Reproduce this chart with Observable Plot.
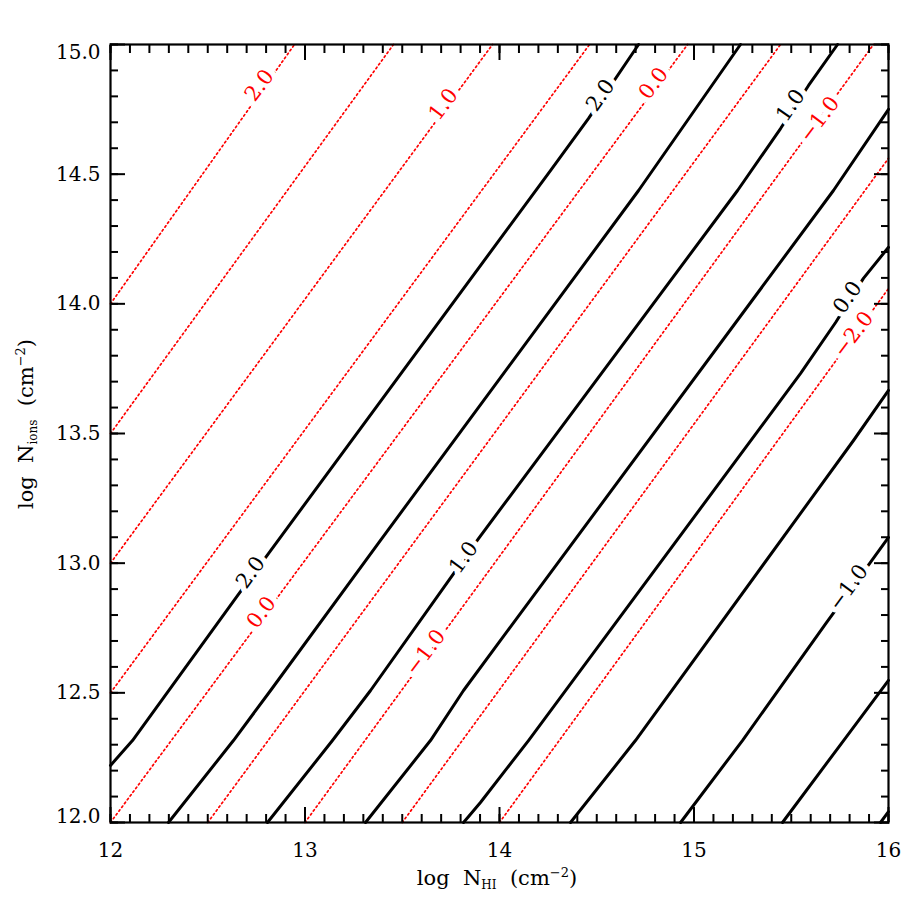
<!DOCTYPE html>
<html>
<head>
<meta charset="utf-8">
<script src="https://cdn.jsdelivr.net/npm/d3@7"></script>
<script src="https://cdn.jsdelivr.net/npm/@observablehq/plot@0.6"></script>
<style>
  body { margin: 0; background: #ffffff; }
  #chart { width: 915px; height: 915px; }
</style>
</head>
<body>
<div id="chart"></div>
<script>
// ---------- axis ticks ----------
const xTicks = [12, 13, 14, 15, 16];
const yTicks = [12.0, 12.5, 13.0, 13.5, 14.0, 14.5, 15.0];
const xMinor = d3.range(120, 161).map(d => d / 10);
const yMinor = d3.range(120, 151).map(d => d / 10);

// ---------- black solid contours (level, points [logNHI, logNions]) ----------
const blackLevels = [2.0, 1.5, 1.0, 0.5, 0.0, -0.5, -1.0, -1.5, -2.0];
const blackP20 = [[12.000,12.220],[12.113,12.316],[12.653,12.875],[12.812,13.037],[14.262,14.514],[14.458,14.715],[14.715,15.000]];
const blackP15 = [[12.298,12.000],[12.632,12.316],[12.823,12.509],[13.388,13.088],[14.715,14.437],[15.239,15.000]];
const blackP10 = [[12.807,12.000],[13.141,12.316],[13.337,12.509],[13.764,12.960],[13.892,13.095],[15.224,14.437],[15.445,14.676],[15.589,14.842],[15.738,15.000]];
const blackP05 = [[13.311,12.000],[13.645,12.316],[13.815,12.509],[14.005,12.702],[15.717,14.437],[16.000,14.750]];
const blackM00 = [[13.815,12.000],[13.902,12.077],[14.149,12.316],[15.548,13.732],[15.728,13.928],[15.871,14.098],[16.000,14.218]];
const blackM05 = [[14.365,12.000],[14.699,12.316],[15.820,13.473],[16.000,13.666]];
const blackM10 = [[14.931,12.000],[15.249,12.316],[15.681,12.771],[15.907,13.003],[16.000,13.099]];
const blackM15 = [[15.455,12.000],[15.769,12.316],[16.000,12.548]];
const blackM20 = [[15.959,12.000],[16.000,12.042]];
const blackLines = [blackP20, blackP15, blackP10, blackP05, blackM00, blackM05, blackM10, blackM15, blackM20];

// ---------- red dotted contours (level, start, end) ----------
const redLevels = [2.0, 1.5, 1.0, 0.5, 0.0, -0.5, -1.0, -1.5, -2.0];
const redStart  = [[12.0,14.0],[12.0,13.5],[12.0,13.0],[12.0,12.5],[12.0,12.0],[12.5,12.0],[13.0,12.0],[13.5,12.0],[14.0,12.0]];
const redEnd    = [[12.946,15.0],[13.455,15.0],[13.964,15.0],[14.463,15.0],[14.967,15.0],[15.445,15.0],[15.923,15.0],[16.0,14.561],[16.0,14.059]];

// ---------- contour labels ----------
const blackLabelText = ["2.0", "2.0", "1.0", "1.0", "0.0", "\u22121.0"];
const blackLabelX    = [12.720, 14.519, 13.815, 15.496, 15.789, 15.794];
const blackLabelY    = [12.964, 14.804, 13.022, 14.765, 14.025, 12.906];
const blackLabelRot  = [-54, -55, -54, -55, -55, -54];

const redLabelText = ["2.0", "1.0", "0.0", "0.0", "\u22121.0", "\u22121.0", "\u22122.0"];
const redLabelX    = [12.766, 13.712, 14.792, 12.776, 13.620, 15.645, 15.820];
const redLabelY    = [14.842, 14.769, 14.850, 12.810, 12.656, 14.711, 13.882];
const redLabelRot  = [-53, -53, -53, -53, -53, -53, -53];

// ---------- build tables ----------
const blackRows = blackLines.flatMap((pts, i) => pts.map(([x, y]) => ({level: blackLevels[i], x, y})));
const redRows = redLevels.flatMap((lv, i) => [
  {level: lv, x: redStart[i][0], y: redStart[i][1]},
  {level: lv, x: redEnd[i][0], y: redEnd[i][1]}
]);
const blackLabels = blackLabelText.map((t, i) => ({text: t, x: blackLabelX[i], y: blackLabelY[i], rot: blackLabelRot[i]}));
const redLabels = redLabelText.map((t, i) => ({text: t, x: redLabelX[i], y: redLabelY[i], rot: redLabelRot[i]}));

const FONT = "DejaVu Serif";
const fmtY = d3.format(".1f");
const noText = () => "";

const plot = Plot.plot({
  width: 915,
  height: 915,
  marginLeft: 110,
  marginRight: 27,
  marginTop: 44,
  marginBottom: 93,
  x: {domain: [12, 16]},
  y: {domain: [12, 15]},
  style: {fontFamily: FONT, fontSize: "20px", background: "white", color: "black"},
  marks: [
    Plot.line(redRows, {x: "x", y: "y", z: "level", stroke: "#ff0000", strokeWidth: 1.7, strokeDasharray: "1.7,3.0"}),
    Plot.line(blackRows, {x: "x", y: "y", z: "level", stroke: "black", strokeWidth: 3, strokeLinejoin: "round"}),
    Plot.text(redLabels, {x: "x", y: "y", text: "text", rotate: "rot", fill: "#ff0000", stroke: "white", strokeWidth: 11, paintOrder: "stroke", fontSize: 21, fontFamily: FONT}),
    Plot.text(blackLabels, {x: "x", y: "y", text: "text", rotate: "rot", fill: "black", stroke: "white", strokeWidth: 11, paintOrder: "stroke", fontSize: 21, fontFamily: FONT}),
    // tick labels
    Plot.axisX(xTicks, {anchor: "bottom", tickSize: 0, tickPadding: 20, tickFormat: d => String(d), label: null, fontSize: 20}),
    Plot.axisY(yTicks.filter(d => d > 12 && d < 15), {anchor: "left", tickSize: 0, tickPadding: 10, tickFormat: fmtY, label: null, fontSize: 20}),
    Plot.axisY([15.0], {anchor: "left", tickSize: 0, tickPadding: 10, tickFormat: fmtY, label: null, fontSize: 20, dy: 8}),
    Plot.axisY([12.0], {anchor: "left", tickSize: 0, tickPadding: 10, tickFormat: fmtY, label: null, fontSize: 20, dy: -6}),
    // inward ticks on all four sides
    Plot.axisX(xTicks, {anchor: "bottom", tickSize: -15, tickFormat: noText, label: null, strokeWidth: 2}),
    Plot.axisX(xMinor, {anchor: "bottom", tickSize: -8, tickFormat: noText, label: null, strokeWidth: 2}),
    Plot.axisX(xTicks, {anchor: "top", tickSize: -15, tickFormat: noText, label: null, strokeWidth: 2}),
    Plot.axisX(xMinor, {anchor: "top", tickSize: -8, tickFormat: noText, label: null, strokeWidth: 2}),
    Plot.axisY(yTicks, {anchor: "left", tickSize: -15, tickFormat: noText, label: null, strokeWidth: 2}),
    Plot.axisY(yMinor, {anchor: "left", tickSize: -8, tickFormat: noText, label: null, strokeWidth: 2}),
    Plot.axisY(yTicks, {anchor: "right", tickSize: -15, tickFormat: noText, label: null, strokeWidth: 2}),
    Plot.axisY(yMinor, {anchor: "right", tickSize: -8, tickFormat: noText, label: null, strokeWidth: 2}),
    Plot.frame({stroke: "black", strokeWidth: 2.2})
  ]
});

document.getElementById("chart").appendChild(plot);

// ---------- axis titles with sub/superscripts ----------
const svg = d3.select(plot);
const xs = plot.scale("x"), ys = plot.scale("y");
const cx = (xs.apply(12) + xs.apply(16)) / 2;
const cy = (ys.apply(12) + ys.apply(15)) / 2;

const xt = svg.append("text")
  .attr("x", cx - 2).attr("y", 885)
  .attr("text-anchor", "middle")
  .attr("font-family", FONT).attr("font-size", 21).attr("fill", "black")
  .style("white-space", "pre");
xt.append("tspan").text("log  N");
xt.append("tspan").attr("dy", 4).attr("font-size", 12).text("HI");
xt.append("tspan").attr("dy", -4).text("  (cm");
xt.append("tspan").attr("dy", -8).attr("font-size", 13).text("\u22122");
xt.append("tspan").attr("dy", 8).text(")");

const yt = svg.append("text")
  .attr("transform", `translate(33,${cy - 9}) rotate(-90)`)
  .attr("text-anchor", "middle")
  .attr("font-family", FONT).attr("font-size", 21).attr("fill", "black")
  .style("white-space", "pre");
yt.append("tspan").text("log  N");
yt.append("tspan").attr("dy", 4).attr("font-size", 12).text("ions");
yt.append("tspan").attr("dy", -4).text("  (cm");
yt.append("tspan").attr("dy", -8).attr("font-size", 13).text("\u22122");
yt.append("tspan").attr("dy", 8).text(")");
</script>
</body>
</html>
